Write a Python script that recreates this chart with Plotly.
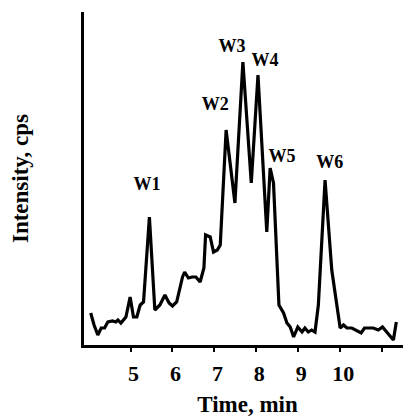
import plotly.graph_objects as go

# Retention time (min) and relative intensity (arbitrary units)
time_min = [4.05, 4.13, 4.22, 4.30, 4.38, 4.46, 4.57, 4.65, 4.70, 4.77, 4.89, 4.99,
            5.07, 5.15, 5.23, 5.31, 5.45, 5.58, 5.70, 5.82, 5.92, 6.00, 6.10, 6.24,
            6.29, 6.38, 6.47, 6.56, 6.66, 6.75, 6.79, 6.90, 6.98, 7.07, 7.14, 7.28,
            7.49, 7.68, 7.88, 8.04, 8.25, 8.33, 8.41, 8.49, 8.54, 8.65, 8.73, 8.81,
            8.89, 8.99, 9.09, 9.16, 9.24, 9.32, 9.40, 9.48, 9.64, 9.80, 9.92, 10.00,
            10.08, 10.16, 10.28, 10.40, 10.50, 10.58, 10.68, 10.79, 10.91, 11.01,
            11.11, 11.27, 11.34]
intensity = [32, 20, 10, 17, 17, 23, 24, 23, 25, 22, 28, 48,
             28, 28, 40, 43, 128, 35, 40, 50, 42, 39, 43, 68,
             73, 67, 68, 68, 63, 77, 110, 108, 93, 95, 100, 215,
             142, 283, 162, 270, 113, 177, 162, 85, 40, 32, 22, 18,
             8, 18, 13, 17, 13, 15, 13, 40, 165, 75, 38, 17,
             20, 17, 17, 14, 12, 17, 17, 17, 15, 18,
             13, 5, 23]

peak_labels = ["W1", "W2", "W3", "W4", "W5", "W6"]
label_time = [5.39, 7.02, 7.42, 8.21, 8.61, 9.75]
label_int = [160, 240, 298, 284, 188, 182]

tick_vals = [5, 6, 7, 8, 9, 10, 11]
tick_text = ["5", "6", "7", "8", "9", "10", ""]

FONT = "Liberation Serif"

fig = go.Figure()
fig.add_trace(go.Scatter(
    x=time_min, y=intensity, mode="lines",
    line=dict(color="black", width=3.2), hoverinfo="skip", showlegend=False,
))
fig.add_trace(go.Scatter(
    x=label_time, y=label_int, mode="text", text=peak_labels,
    textfont=dict(family=FONT, size=18, color="black", weight="bold"),
    textposition="middle center", showlegend=False, hoverinfo="skip",
))

fig.update_layout(
    width=403, height=412,
    margin=dict(l=76, r=0, t=4, b=75),
    paper_bgcolor="white", plot_bgcolor="white",
    font=dict(family=FONT, color="black"),
)
fig.update_xaxes(
    range=[3.89, 11.69], showgrid=False, zeroline=False,
    showline=True, linecolor="black", linewidth=3,
    tickmode="array", tickvals=tick_vals, ticktext=tick_text,
    ticks="outside", ticklen=4, tickwidth=2, tickcolor="black",
    tickfont=dict(family=FONT, size=22, color="black", weight="bold"),
    ticklabelshift=3, ticklabelstandoff=3,
    title=dict(text="<b>Time, min</b>", font=dict(family=FONT, size=23, color="black"),
               standoff=11),
)
fig.update_yaxes(
    range=[0, 333], showgrid=False, zeroline=False,
    showline=True, linecolor="black", linewidth=3,
    showticklabels=False, ticks="",
    title=dict(text="<b>Intensity, cps</b>", font=dict(family=FONT, size=23, color="black"),
               standoff=46),
)

fig.write_html("out.html")
